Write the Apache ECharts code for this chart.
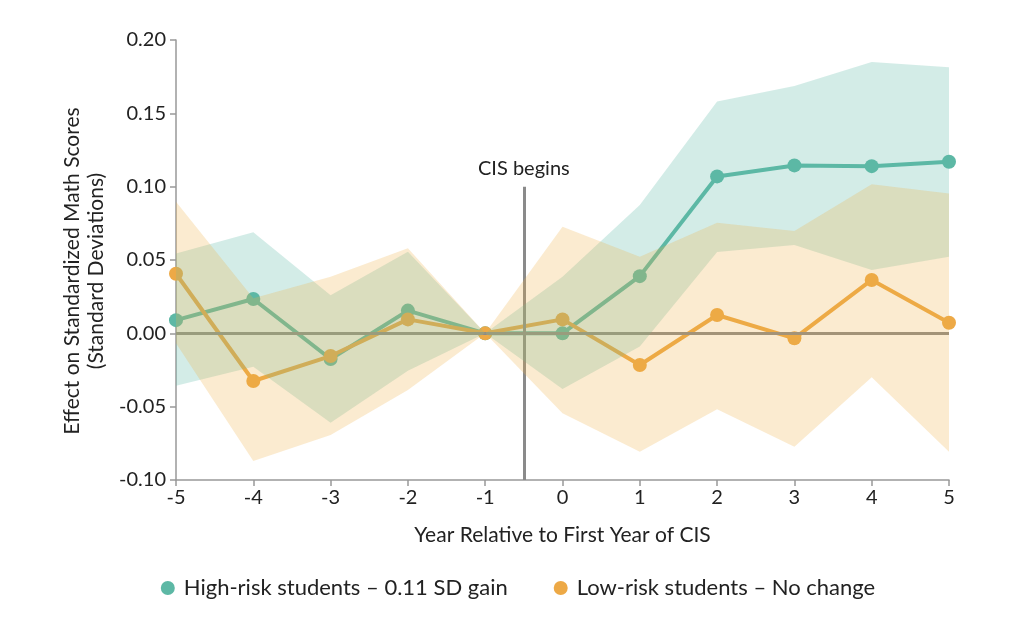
<!DOCTYPE html>
<html>
<head>
<meta charset="utf-8">
<script src="https://cdn.jsdelivr.net/npm/echarts@6/dist/echarts.min.js"></script>
<style>html,body{margin:0;padding:0;background:#fff}#c{width:1036px;height:638px}</style>
</head>
<body>
<div id="c"></div>
<script>
var years = [-5,-4,-3,-2,-1,0,1,2,3,4,5];
var highRisk = [0.009,0.0234,-0.0175,0.0155,0,0,0.039,0.107,0.1145,0.114,0.117];
var highUpper = [0.0545,0.0689,0.026,0.0557,0,0.0386,0.0875,0.158,0.1686,0.185,0.1814];
var highLower = [-0.0357,-0.0227,-0.061,-0.0255,0,-0.038,-0.009,0.0555,0.0602,0.0432,0.0523];
var lowRisk = [0.0406,-0.0325,-0.0155,0.0095,0,0.0095,-0.0216,0.0125,-0.0034,0.0364,0.0072];
var lowUpper = [0.0898,0.0239,0.0386,0.058,0,0.0727,0.0523,0.0754,0.0698,0.1016,0.0954];
var lowLower = [-0.0068,-0.087,-0.0693,-0.0386,0,-0.0545,-0.0807,-0.0518,-0.0773,-0.030,-0.0807];
var yTicks = [-0.10,-0.05,0.00,0.05,0.10,0.15,0.20];
var seriesNames = ['High-risk students – 0.11 SD gain','Low-risk students – No change'];
var cisYear = -0.5;

var teal = '#5DB8A5', orange = '#EDA946';
var FONT = 'Lato';
function pairs(v){ return years.map(function(x,i){ return [x, v[i]]; }); }
function bandData(l,u){ return years.map(function(x,i){ return [x, l[i], u[i]]; }); }
function bandRender(lower, upper, color){
  return function(params, api){
    if (params.dataIndex !== 0) return null;
    var pts = [];
    for (var i=0;i<years.length;i++) pts.push(api.coord([years[i], upper[i]]));
    for (var j=years.length-1;j>=0;j--) pts.push(api.coord([years[j], lower[j]]));
    return {type:'polygon', shape:{points:pts}, style:{fill:color}, silent:true};
  };
}

var chart = echarts.init(document.getElementById('c'), null, {renderer:'canvas'});
chart.setOption({
  animation:false,
  textStyle:{fontFamily:FONT},
  grid:{left:176,right:87,top:40,bottom:158,containLabel:false},
  legend:{
    bottom:34, left:'center', itemGap:46, itemWidth:14, itemHeight:14,
    icon:'circle',
    data:[{name:seriesNames[0],itemStyle:{color:teal}},{name:seriesNames[1],itemStyle:{color:orange}}],
    textStyle:{fontSize:22,color:'#222',fontFamily:FONT,padding:[0,0,0,4]}
  },
  xAxis:{
    type:'value', min:-5, max:5, interval:1,
    name:'Year Relative to First Year of CIS', nameLocation:'middle', nameGap:45,
    nameTextStyle:{fontSize:21,color:'#222'},
    axisLine:{show:true,onZero:false,lineStyle:{color:'#999',width:1.5}},
    axisTick:{show:true,length:6,lineStyle:{color:'#999',width:1.5}},
    axisLabel:{fontSize:20,color:'#222',margin:8},
    splitLine:{show:false}
  },
  yAxis:{
    type:'value', min:-0.10, max:0.20, interval:0.05,
    name:'Effect on Standardized Math Scores\n(Standard Deviations)', nameLocation:'middle', nameGap:68,
    nameTextStyle:{fontSize:21,color:'#222',lineHeight:24,padding:[0,22,0,0]},
    axisLine:{show:true,onZero:false,lineStyle:{color:'#999',width:1.5}},
    axisTick:{show:true,length:6,lineStyle:{color:'#999',width:1.5}},
    axisLabel:{fontSize:20,color:'#222',margin:10,formatter:function(v){ return v.toFixed(2); }},
    splitLine:{show:false}
  },
  series:[
    {type:'custom', name:'hband', data:bandData(highLower,highUpper), renderItem:bandRender(highLower,highUpper,'rgba(93,184,165,0.27)'), silent:true, z:5, encode:{x:0,y:[1,2]}},
    {type:'custom', name:'lband', data:bandData(lowLower,lowUpper), renderItem:bandRender(lowLower,lowUpper,'rgba(239,176,66,0.25)'), silent:true, z:6, encode:{x:0,y:[1,2]}},
    {type:'line', name:seriesNames[0], data:pairs(highRisk), symbol:'circle', symbolSize:14,
      lineStyle:{color:teal,width:4}, itemStyle:{color:teal}, z:3,
      markLine:{silent:true, symbol:'none', animation:false,
        data:[
          [{coord:[-5,0],lineStyle:{color:'#8a8a8a',width:3,type:'solid'}},{coord:[5,0]}],
          [{coord:[cisYear,-0.10],lineStyle:{color:'#8a8a8a',width:3,type:'solid'}},{coord:[cisYear,0.10]}]
        ],
        label:{show:false}
      }
    },
    {type:'line', name:seriesNames[1], data:pairs(lowRisk), symbol:'circle', symbolSize:14,
      lineStyle:{color:orange,width:4}, itemStyle:{color:orange}, z:4,
      markPoint:{silent:true, symbol:'rect', symbolSize:1, itemStyle:{color:'rgba(0,0,0,0)'},
        data:[{coord:[cisYear,0.10], label:{show:true, formatter:'CIS begins', position:'top', distance:8, fontSize:20, color:'#222', fontFamily:FONT}}]
      }
    }
  ]
});
</script>
</body>
</html>
